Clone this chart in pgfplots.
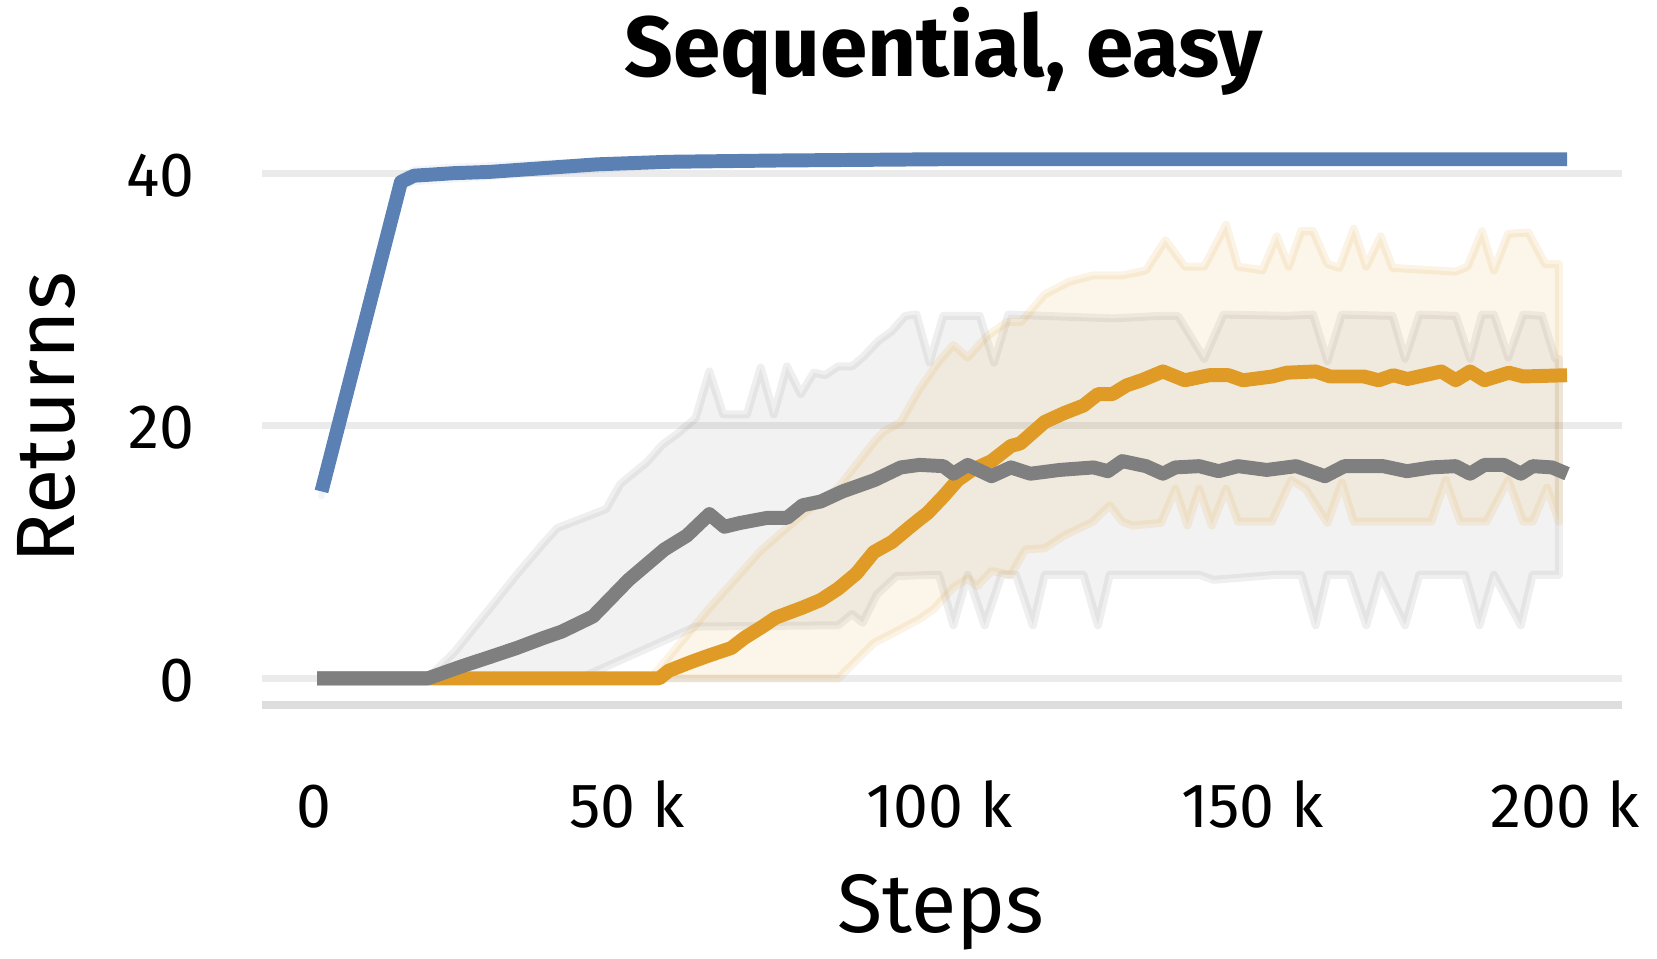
\documentclass[border=0pt]{standalone}
\usepackage{fontspec}
\setmainfont{Fira Sans}
\usepackage{pgfplots}
\usepackage{pgfplotstable}
\pgfplotsset{compat=1.18}
\usepgfplotslibrary{fillbetween}
\definecolor{cblue}{HTML}{5B80B4}
\definecolor{corange}{HTML}{E09B26}
\definecolor{cgray}{HTML}{7F7F7F}
\definecolor{gridc}{HTML}{EBEBEB}
\definecolor{axc}{HTML}{DEDEDE}

\pgfplotstableread{
x y
1.2 14.8
13.9 39.3
16.0 39.8
22.4 40.0
28.1 40.1
36.7 40.4
45.3 40.7
56.7 40.9
73.8 41.0
100.0 41.1
200.3 41.1
}\bluemean
\pgfplotstableread{
x y
1.2 15.1
13.9 39.7
16.0 40.3
22.4 40.5
36.7 40.8
56.7 41.1
100.0 41.3
199.0 41.2
}\blueup
\pgfplotstableread{
x y
1.2 14.4
13.9 38.8
16.0 39.3
22.4 39.5
36.7 40.0
56.7 40.6
100.0 40.9
199.0 41.0
}\bluelo

\pgfplotstableread{
x y
0.5 0
18.2 0
23.9 1.0
28.2 1.7
32.4 2.4
36.7 3.2
39.6 3.7
44.6 4.9
50.3 7.8
56.0 10.2
59.6 11.3
63.2 13.0
65.6 12.0
68.1 12.3
72.4 12.7
75.6 12.7
78.1 13.7
81.0 14.0
84.5 14.8
89.6 15.7
93.8 16.7
96.8 16.9
100.6 16.8
102.2 16.2
104.5 16.9
108.3 16.0
111.4 16.7
114.5 16.2
119.2 16.5
124.6 16.7
126.9 16.4
129.2 17.2
133.0 16.8
135.7 16.2
137.7 16.7
141.5 16.8
144.6 16.4
147.7 16.8
152.3 16.5
157.0 16.8
159.3 16.4
161.6 16.0
164.7 16.8
170.9 16.8
174.7 16.4
178.6 16.7
182.5 16.8
184.8 16.2
187.1 16.9
190.2 16.9
192.9 16.2
194.8 16.8
197.9 16.7
200.3 16.2
}\graymean

\pgfplotstableread{
x y
18.2 0
22.5 2.1
28.2 5.6
32.4 8.2
36.7 10.7
38.9 11.9
46.7 13.4
49.0 15.4
53.2 17.1
55.7 18.5
58.2 19.4
61.0 20.6
63.2 24.3
65.4 20.9
69.2 20.9
71.4 24.6
73.5 20.9
75.6 24.7
77.8 22.5
79.9 24.2
81.7 24.0
83.8 24.7
86.0 24.7
87.7 25.4
90.2 26.7
92.4 27.5
94.5 28.7
96.3 28.8
98.4 25.0
100.6 28.7
104.5 28.7
106.4 28.7
108.7 25.0
111.0 28.8
127.7 28.5
135.4 28.7
138.1 28.7
142.3 25.3
145.4 28.8
155.5 28.7
159.7 28.8
162.0 25.1
164.3 28.8
172.4 28.7
174.4 25.3
176.7 28.8
182.5 28.7
184.8 25.3
186.7 28.8
188.6 28.8
190.9 25.4
193.3 28.8
196.3 28.7
198.4 25.3
199.0 25.3
}\grayup

\pgfplotstableread{
x y
18.2 0
42.5 0
61.0 4.1
83.8 4.2
86.0 5.1
87.7 4.4
89.9 6.6
93.1 8.1
99.9 8.2
102.2 4.2
104.5 8.2
107.2 4.2
109.9 8.2
112.2 8.2
114.9 4.2
116.8 8.2
123.0 8.2
125.3 4.2
127.2 8.2
141.5 8.2
143.8 7.8
153.9 8.2
157.8 8.2
160.1 4.2
162.0 8.2
165.5 8.2
168.2 4.2
170.5 8.2
174.4 4.2
176.7 8.2
184.0 8.2
186.3 4.2
188.6 8.2
192.9 4.2
194.8 8.2
199.0 8.2
}\graylo

\pgfplotstableread{
x y
0.5 0
55.2 0
56.7 0.6
60.3 1.3
63.1 1.8
66.7 2.4
68.8 3.2
71.7 4.1
73.8 4.8
78.1 5.6
81.0 6.2
83.8 7.1
86.7 8.3
89.5 10.0
92.4 10.8
95.3 12.0
96.8 12.6
98.1 13.1
100.6 14.4
102.9 15.7
105.2 16.5
108.3 17.2
111.4 18.4
112.9 18.6
116.8 20.3
119.9 21.0
123.0 21.6
125.3 22.5
127.6 22.5
129.9 23.2
132.3 23.6
135.7 24.3
139.2 23.6
143.1 24.0
146.2 24.0
148.5 23.6
153.2 23.9
155.5 24.2
160.1 24.3
162.4 23.9
167.8 23.9
170.2 23.6
172.5 24.0
174.8 23.7
180.2 24.3
182.5 23.6
184.8 24.3
187.1 23.6
191.0 24.2
193.3 23.9
200.3 24.0
}\orangemean

\pgfplotstableread{
x y
53.9 0
63.1 5.5
71.4 10.1
77.4 12.7
83.8 15.1
89.5 18.7
91.0 19.5
93.8 20.3
96.8 22.9
99.9 25.1
102.2 26.4
104.5 25.4
107.6 27.1
110.7 28.2
113.0 28.2
116.8 30.4
120.7 31.4
124.5 31.9
129.2 31.9
133.0 32.3
136.1 34.7
139.2 32.6
142.3 32.6
145.8 35.9
147.7 32.6
151.6 32.3
153.9 35.0
155.8 32.6
157.8 35.4
159.7 35.4
162.0 32.8
163.9 32.5
166.2 35.6
168.2 32.6
170.5 35.0
172.4 32.5
182.5 32.2
184.4 32.6
186.7 35.4
188.6 32.3
190.9 35.2
194.1 35.3
196.8 32.8
199.0 32.8
}\orangeup

\pgfplotstableread{
x y
53.9 0
83.8 0
89.5 2.8
93.8 3.9
96.8 4.7
99.1 5.5
102.2 7.2
104.5 7.9
106.0 7.3
108.3 8.5
111.4 8.2
113.7 10.2
116.8 10.3
119.9 11.3
124.5 12.4
127.2 13.7
129.2 12.4
130.8 12.1
135.4 12.3
137.7 15.0
139.6 12.1
141.5 15.0
143.5 12.1
145.8 15.0
147.7 12.4
153.1 12.4
156.2 15.7
158.5 15.0
162.0 12.3
164.3 15.5
166.2 12.4
178.6 12.4
180.9 15.7
183.2 12.4
187.4 12.4
190.9 15.7
193.3 12.4
194.8 12.4
197.1 15.1
199.0 12.4
}\orangelo

\begin{document}
\begin{tikzpicture}
\begin{axis}[
  at={(0,0)}, anchor=south west,
  scale only axis, width=321.75pt, height=133.25pt,
  xmin=-8.3, xmax=209.1, ymin=-2.1, ymax=42.5,
  axis x line*=bottom, axis y line*=left,
  x axis line style={draw=axc, line width=1.8pt, -},
  y axis line style={draw=none},
  major tick length=0pt,
  xtick={0,50,100,150,200},
  xticklabels={0,50 k,100 k,150 k,200 k},
  ytick={0,20,40},
  yticklabels={0,20,40},
  ymajorgrids,
  major grid style={draw=gridc, line width=1.7pt},
  tick label style={font=\fontsize{14.8}{17}\selectfont},
  xticklabel style={anchor=base, inner sep=0pt, yshift=-29pt},
  yticklabel style={anchor=base east, inner sep=0pt, xshift=-15.75pt, yshift=-5.5pt},
  xlabel={Steps},
  xlabel style={font=\fontsize{19.6}{22}\selectfont, at={(axis description cs:0.499,-0.405)}, anchor=base, inner sep=0pt},
  ylabel={Returns},
  ylabel style={font=\fontsize{19.6}{22}\selectfont, at={(axis description cs:-0.138,0.51)}, anchor=base, inner sep=0pt},
  clip=false,
]
% bands
\addplot[draw=none, name path=gu, forget plot] table {\grayup};
\addplot[draw=none, name path=gl, forget plot] table {\graylo};
\addplot[fill=cgray, fill opacity=0.1, draw=cgray, draw opacity=0.12, line width=1.9pt, line join=round] fill between[of=gu and gl];
\addplot[draw=none, name path=ou, forget plot] table {\orangeup};
\addplot[draw=none, name path=ol, forget plot] table {\orangelo};
\addplot[fill=corange, fill opacity=0.1, draw=corange, draw opacity=0.12, line width=1.9pt, line join=round] fill between[of=ou and ol];
\addplot[draw=none, name path=bu, forget plot] table {\blueup};
\addplot[draw=none, name path=bl, forget plot] table {\bluelo};
\addplot[fill=cblue, fill opacity=0.1, draw=cblue, draw opacity=0.08, line width=1.5pt, line join=round] fill between[of=bu and bl];
% means
\addplot[cblue, line width=3.3pt, line join=round] table {\bluemean};
\addplot[corange, line width=3.3pt, line join=round] table {\orangemean};
\addplot[cgray, line width=3.3pt, line join=round] table {\graymean};
\node[anchor=base, inner sep=0pt, font=\fontsize{20.2}{23}\selectfont\bfseries] at (axis description cs:0.501,1.116) {Sequential, easy};
\end{axis}
\path (-62pt,-60pt) rectangle (330pt,166.75pt);
\end{tikzpicture}
\end{document}
